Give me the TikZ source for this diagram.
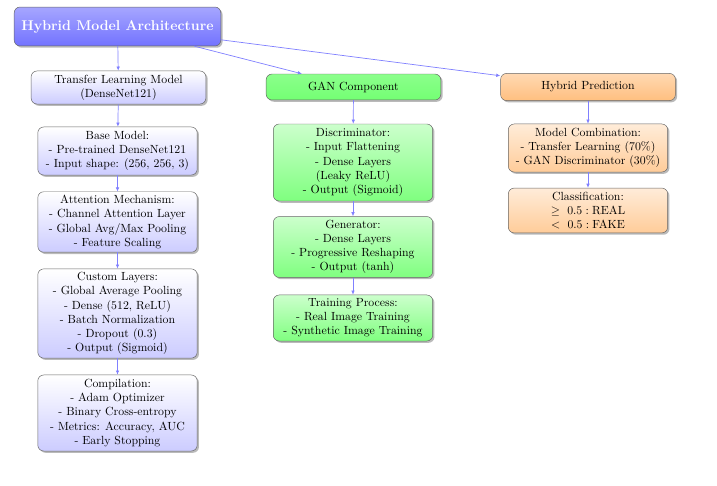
\documentclass[tikz,border=0pt]{standalone}
\usetikzlibrary{shadows,arrows.meta}
\begin{document}
\begin{tikzpicture}[x=0.847pt,y=-0.847pt,
  base/.style={draw=black!60, rounded corners=5pt, align=center, inner sep=3pt,
    drop shadow={shadow xshift=1.5pt, shadow yshift=-1.5pt, opacity=0.45, fill=black!60}},
  titlebox/.style={base, top color=blue!35, bottom color=blue!55, text=white,
    minimum width=175pt, minimum height=33pt, font=\large\bfseries},
  bluehead/.style={base, top color=white, bottom color=blue!20, minimum width=148pt},
  bluebox/.style={base, top color=white, bottom color=blue!20, minimum width=135pt},
  greenhead/.style={base, top color=green!45, bottom color=green!55, minimum width=148pt},
  greenbox/.style={base, top color=green!20, bottom color=green!50, minimum width=135pt},
  orangehead/.style={base, top color=orange!30, bottom color=orange!50, minimum width=148pt},
  orangebox/.style={base, top color=orange!15, bottom color=orange!40, minimum width=135pt},
  conn/.style={draw=blue!50, line width=0.6pt, -{Latex[length=3.5pt,width=3pt]}}
]
\useasboundingbox (0,0) rectangle (717,486);

\node[titlebox] (title) at (117.5,26.5) {Hybrid Model Architecture};

\node[bluehead, minimum height=28pt] (tl) at (118.5,87.5) {Transfer Learning Model\\(DenseNet121)};
\node[bluebox, minimum height=40.7pt] (bm) at (117.5,151) {Base Model:\\- Pre-trained DenseNet121\\- Input shape: (256, 256, 3)};
\node[bluebox, minimum height=50.8pt] (am) at (117.5,222) {Attention Mechanism:\\- Channel Attention Layer\\- Global Avg/Max Pooling\\- Feature Scaling};
\node[bluebox, minimum height=75.4pt] (cl) at (117.5,313.5) {Custom Layers:\\- Global Average Pooling\\- Dense (512, ReLU)\\- Batch Normalization\\- Dropout (0.3)\\- Output (Sigmoid)};
\node[bluebox, minimum height=64.4pt] (co) at (117.5,413) {Compilation:\\- Adam Optimizer\\- Binary Cross-entropy\\- Metrics: Accuracy, AUC\\- Early Stopping};

\node[greenhead, minimum height=22pt] (gan) at (353.5,87) {GAN Component};
\node[greenbox, minimum height=65.2pt] (disc) at (353,162.5) {Discriminator:\\- Input Flattening\\- Dense Layers\\(Leaky ReLU)\\- Output (Sigmoid)};
\node[greenbox, minimum height=50.8pt] (gen) at (353,247) {Generator:\\- Dense Layers\\- Progressive Reshaping\\- Output (tanh)};
\node[greenbox, minimum height=39pt] (tp) at (353,318) {Training Process:\\- Real Image Training\\- Synthetic Image Training};

\node[orangehead, minimum height=23pt] (hp) at (588,87) {Hybrid Prediction};
\node[orangebox, minimum height=40.7pt] (mc) at (588,148) {Model Combination:\\- Transfer Learning (70\%)\\- GAN Discriminator (30\%)};
\node[orangebox, minimum height=38pt] (cls) at (588,210.5) {Classification:\\$\geq\ 0.5 : \mbox{REAL}$\\$<\ 0.5 : \mbox{FAKE}$};

\draw[conn] (title) -- (tl);
\draw[conn] (title) -- (gan);
\draw[conn] (title) -- (hp);
\draw[conn] (tl) -- (bm);
\draw[conn] (bm) -- (am);
\draw[conn] (am) -- (cl);
\draw[conn] (cl) -- (co);
\draw[conn] (gan) -- (disc);
\draw[conn] (disc) -- (gen);
\draw[conn] (gen) -- (tp);
\draw[conn] (hp) -- (mc);
\draw[conn] (mc) -- (cls);
\end{tikzpicture}
\end{document}
